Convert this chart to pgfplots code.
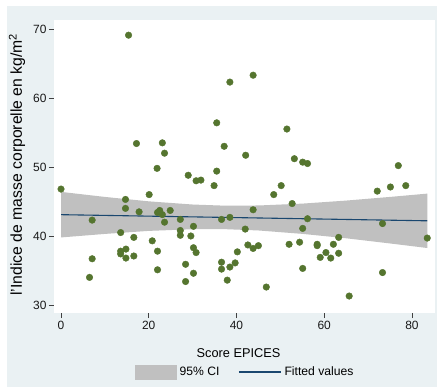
\documentclass[border=0pt]{standalone}
\usepackage{pgfplots}
\pgfplotsset{compat=1.18}
\usepackage{fontspec}
\setmainfont{Liberation Sans}
\definecolor{bgblue}{HTML}{EAF1F3}
\definecolor{forest}{RGB}{85,117,47}
\definecolor{navy}{RGB}{26,71,111}
\definecolor{cigray}{RGB}{192,192,192}
\begin{document}
\begin{tikzpicture}
\path[use as bounding box] (-54bp,-74bp) rectangle (383bp,313bp);
\fill[white] (-54bp,-74bp) rectangle (383bp,313bp);
\fill[bgblue] (-47bp,-74bp) rectangle (383bp,307bp);
\begin{axis}[
  at={(0,0)}, anchor=south west,
  scale only axis, width=380.7bp, height=293bp,
  xmin=-1.6, xmax=85.2, ymin=28.84, ymax=71.3,
  axis background/.style={fill=white},
  axis x line*=bottom, axis y line*=left,
  axis line style={draw=none},
  tick align=outside,
  major tick length=5bp,
  tick style={black!75, line width=0.6bp},
  xtick={0,20,40,60,80}, ytick={30,40,50,60,70},
  minor tick num=0,
  /pgf/number format/assume math mode=true,
  tick label style={font=\fontsize{12}{14}\selectfont, text=black!90},
  yticklabel style={xshift=1bp},
  xlabel={Score EPICES},
  ylabel={l'Indice de masse corporelle en kg/m\textsuperscript{2}},
  every axis x label/.style={at={(axis description cs:0.4846,0)}, anchor=center, yshift=-39.7bp, font=\fontsize{12.8}{14}\selectfont},
  every axis y label/.style={at={(axis description cs:-0.0972,0.507)}, anchor=center, rotate=90, font=\fontsize{15.8}{17}\selectfont},
  legend columns=2,
  legend style={at={(axis description cs:0.503,-0.2014)}, anchor=center, draw=none, fill=none,
    font=\fontsize{12.2}{14}\selectfont,
    /tikz/every even column/.append style={column sep=16bp},
    nodes={inner sep=3bp}},
]
\addplot[fill=cigray, draw=none,
  legend image code/.code={\fill[cigray] (0bp,-7.5bp) rectangle (42bp,7.5bp);}]
  coordinates {(0,46.39) (10,45.66) (20,45.02) (30,44.56) (37,44.40) (45,44.42) (55,44.69) (65,45.13) (75,45.66) (83.5,46.14)
  (83.5,38.26) (75,38.92) (65,39.67) (55,40.31) (45,40.80) (37,41.00) (30,40.98) (20,40.74) (10,40.30) (0,39.79)} -- cycle;
\addlegendentry{95\% CI}
\addplot[navy, line width=1.1bp,
  legend image code/.code={\draw[navy, line width=1.1bp] (0bp,0bp) -- (42bp,0bp);}]
  coordinates {(0,43.09) (83.5,42.20)};
\addlegendentry{Fitted values}
\addplot[only marks, forest, mark=*, mark size=3.3bp, forget plot]
  table {
x y
0.0 46.8
6.5 34.0
7.1 36.7
7.1 42.3
13.6 40.5
13.6 37.8
13.6 37.4
14.7 45.3
14.7 44.0
14.8 38.1
14.8 36.8
15.4 69.1
16.6 39.8
16.6 37.1
17.2 53.4
17.8 43.5
20.1 46.0
20.8 39.3
21.9 49.8
22.0 43.4
22.0 37.8
22.0 35.1
22.5 43.7
23.1 53.5
23.1 43.1
23.6 52.0
23.6 42.0
24.9 43.7
27.2 42.4
27.2 40.8
27.2 40.1
28.4 35.9
28.4 33.4
29.0 48.8
29.6 40.0
30.2 41.4
30.2 38.3
30.2 34.6
30.8 48.0
30.8 37.6
31.9 48.1
34.9 47.3
35.5 56.4
35.5 49.4
36.6 42.4
36.6 36.2
36.6 35.2
37.2 53.0
37.9 33.6
38.5 62.3
38.5 42.7
38.5 35.5
39.7 36.1
40.2 37.7
42.0 41.0
42.1 51.7
42.6 38.7
43.8 63.3
43.8 43.8
43.8 38.2
45.0 38.6
46.8 32.6
48.5 46.0
50.2 47.3
51.5 55.5
52.0 38.8
52.7 44.7
53.2 51.2
54.4 39.1
55.1 50.7
55.1 41.1
55.1 35.3
56.2 50.5
56.2 42.5
58.4 38.8
58.4 38.6
59.1 36.9
60.4 37.6
61.5 36.8
62.1 38.8
63.3 39.8
63.3 37.5
65.7 31.3
72.1 46.5
73.3 41.8
73.3 34.7
75.1 47.1
76.9 50.2
78.6 47.3
83.5 39.7
};
\end{axis}
\end{tikzpicture}
\end{document}
